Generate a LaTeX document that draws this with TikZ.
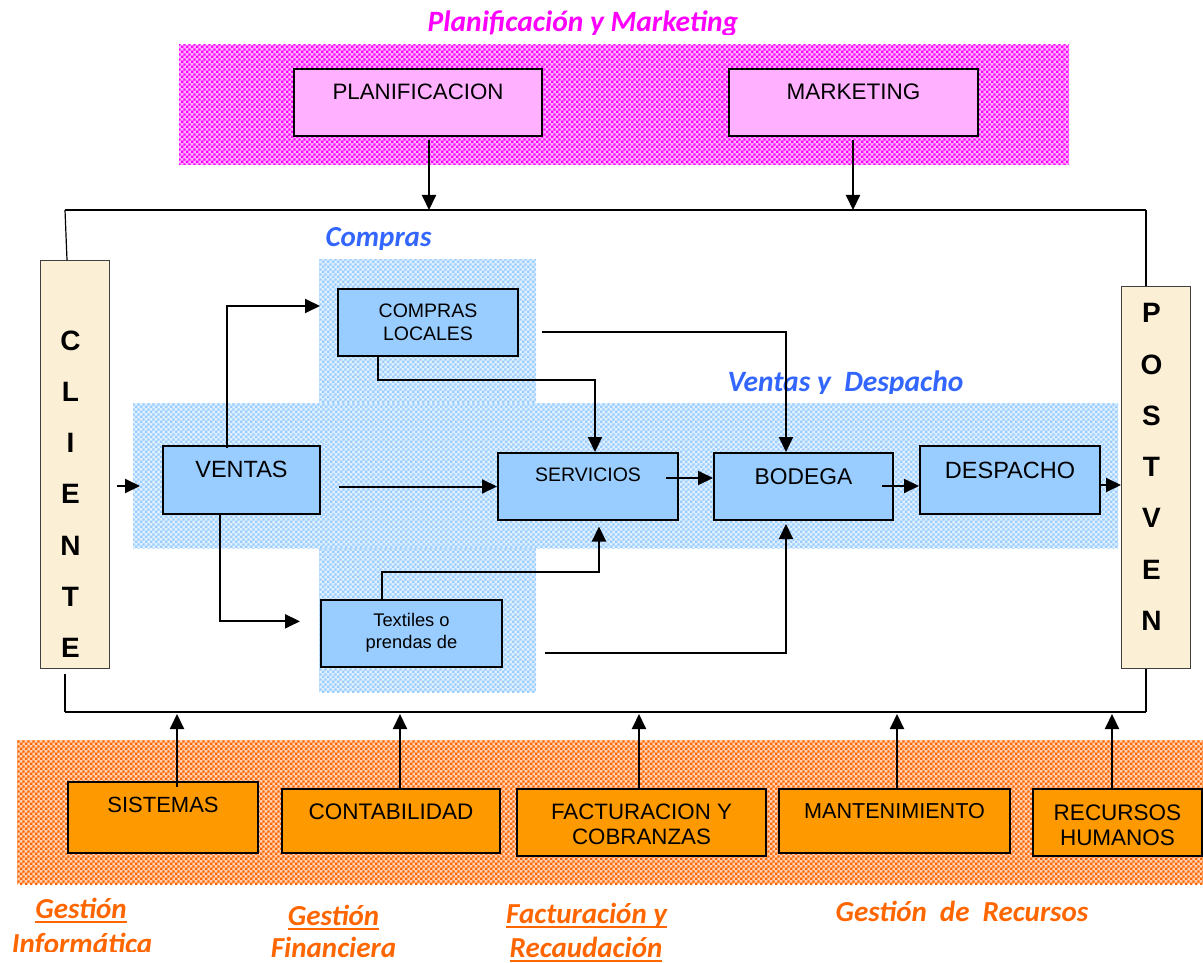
\documentclass[tikz,border=0pt]{standalone}
\usepackage{fontspec}
\setmainfont{Liberation Sans}
\newfontfamily\calib{Carlito}
\usetikzlibrary{arrows.meta,patterns,calc}

% small two-colour checks used for the department bands
\pgfdeclarepatternformonly{chk}{\pgfpointorigin}{\pgfqpoint{5.2pt}{5.2pt}}{\pgfqpoint{5.2pt}{5.2pt}}{%
  \pgfpathrectangle{\pgfpointorigin}{\pgfqpoint{2.6pt}{2.6pt}}%
  \pgfpathrectangle{\pgfqpoint{2.6pt}{2.6pt}}{\pgfqpoint{2.6pt}{2.6pt}}%
  \pgfusepath{fill}}

\definecolor{magA}{HTML}{FF00FF}
\definecolor{pinkbox}{HTML}{FFB0FF}
\definecolor{skyA}{HTML}{99CCFF}
\definecolor{orgA}{HTML}{FF6600}
\definecolor{orgbox}{HTML}{FF9900}
\definecolor{beigeA}{HTML}{FBEFD6}
\definecolor{lblblue}{HTML}{3366FF}

\newcommand\setfs[2]{\fontsize{#1}{#2}\selectfont}
% text pinned to the top of a W x H box, first line starting g below the top
\newcommand\topbox[4]{\parbox[c][#2pt][t]{#1pt}{\centering\vspace*{#3pt}#4\par}}
% letters stacked in the two side columns
\newcommand\stackbox[4]{\parbox[c][#2pt][t]{#1pt}{\centering\rightskip=9pt plus 1fil\vspace*{#3pt}#4\par}}
% heavy underline for the department captions
\newcommand\uln[1]{\setbox0=\hbox{#1}\rlap{\rule[-5pt]{\wd0}{2pt}}\box0}

\begin{document}
\begin{tikzpicture}[x=1pt,y=-1pt,
  box/.style={draw=black, line width=2pt, inner sep=0pt, anchor=north west},
  side/.style={draw=black!75, line width=0.9pt, fill=beigeA, inner sep=0pt,
    anchor=north west, font=\setfs{28}{51.3}\bfseries},
  arr/.style={line width=2pt, -{Triangle[length=15pt,width=14pt]}},
  frameline/.style={line width=2pt},
  thinline/.style={line width=1.2pt},
  captxt/.style={font=\calib\bfseries\itshape\setfs{29}{34}, inner sep=0pt, anchor=base},
  band/.style={fill=#1!30, postaction={pattern=chk, pattern color=#1}}
]
\useasboundingbox (0,0) rectangle (1203,963);

% checkered department bands
\path[band=magA] (179,45) rectangle (1069,165);
\path[band=skyA] (319,259) rectangle (536,692);
\path[band=skyA] (133,403) rectangle (1118,548);
\path[band=orgA] (17,740) rectangle (1203,884);

% band captions
\begin{scope}
  \clip (380,0) rectangle (800,34.5);
  \node[captxt, font=\calib\bfseries\itshape\setfs{29.5}{34}, text=magA] (ttl) at (583,31.5) {Planificación y Marketing};
\end{scope}
\begin{scope}
  \clip (300,215) rectangle (470,249.5);
  \node[captxt, text=lblblue] (capcompras) at (378.5,247) {Compras};
\end{scope}
\begin{scope}
  \clip (700,360) rectangle (1000,393.5);
  \node[captxt, font=\calib\bfseries\itshape\setfs{29.5}{34}, text=lblblue] (capventas) at (845.5,391) {Ventas y~ Despacho};
\end{scope}
\node[captxt, text=orgA] (capinf) at (81,918) {\uln{Gestión}};
\begin{scope}
  \clip (0,925) rectangle (200,951);
  \node[captxt, text=orgA] (capinfb) at (82,953) {Informática};
\end{scope}
\node[captxt, text=orgA] (capfin) at (333.5,925) {\uln{Gestión}};
\node[captxt, text=orgA] (capfinb) at (333.5,957) {Financiera};
\node[captxt, text=orgA] (capfac) at (586.5,923) {\uln{Facturación y}};
\node[captxt, text=orgA] (capfacb) at (586,957) {\uln{Recaudación}};
\node[captxt, text=orgA] (caprec) at (962,921) {Gestión~~de~~Recursos};

% outer frame joining CLIENTE and POSTVEN
\coordinate (ftl) at (65,210);
\coordinate (ftr) at (1146,210);
\coordinate (fbl) at (65,712);
\coordinate (fbr) at (1146,712);
\draw[frameline] (ftl) -- (ftr);
\draw[frameline] (fbl) -- (fbr);

% boxes
\node[box, fill=pinkbox, font=\setfs{22.3}{26}] (planif) at (293,68) {\topbox{248}{67}{15}{PLANIFICACION}};
\node[box, fill=pinkbox, font=\setfs{22.5}{26}] (mkt) at (728,68) {\topbox{249}{67}{15}{MARKETING}};
\node[side] (cliente) at (40,260) {\stackbox{69}{408}{70}{C\\L\\I\\E\\N\\T\\E}};
\node[side] (postven) at (1121,286) {\stackbox{69}{382}{17}{P\\O\\S\\T\\V\\E\\N}};

\node[box, fill=skyA, font=\setfs{23.5}{27}] (ventas) at (162,445) {\topbox{157}{68}{15}{VENTAS}};
\node[box, fill=skyA, font=\setfs{19.5}{23}] (compras) at (337,288) {\topbox{180}{67}{15}{COMPRAS\\LOCALES}};
\node[box, fill=skyA, font=\setfs{19.5}{23}] (servicios) at (497,452) {\topbox{180}{67}{14.7}{SERVICIOS}};
\node[box, fill=skyA, font=\setfs{22.8}{27}] (bodega) at (713,452) {\topbox{179}{67}{15.7}{BODEGA}};
\node[box, fill=skyA, font=\setfs{23.5}{27}] (despacho) at (919,445) {\topbox{180}{68}{15.7}{DESPACHO}};
\node[box, fill=skyA, font=\setfs{18.3}{21.3}] (textiles) at (320,598.7) {\topbox{181}{67.3}{14}{Textiles o\\prendas de}};

\node[box, fill=orgbox, font=\setfs{22}{25}] (sistemas) at (67,780.7) {\topbox{190}{71}{15.3}{SISTEMAS}};
\node[box, fill=orgbox, font=\setfs{22.5}{25}] (contab) at (281,787.7) {\topbox{218}{64}{15}{CONTABILIDAD}};
\node[box, fill=orgbox, font=\setfs{22.3}{25}] (factur) at (516,787.7) {\topbox{249}{67}{15.6}{FACTURACION Y\\COBRANZAS}};
\node[box, fill=orgbox, font=\setfs{21.6}{25}] (manten) at (778,787.7) {\topbox{231}{64}{15}{MANTENIMIENTO}};
\node[box, fill=orgbox, font=\setfs{22.5}{25}] (recursos) at (1032,787.7) {\topbox{169}{67}{15.6}{RECURSOS\\HUMANOS}};

% frame legs into the side columns
\draw[thinline] (ftl) -- ($(cliente.north west)+(27,0)$);
\draw[thinline] (ftr) -- ($(postven.north west)+(25,0)$);
\draw[thinline] ($(cliente.south west)+(25,5)$) -- (fbl);
\draw[thinline] ($(postven.south west)+(25,0)$) -- (fbr);

% planning and marketing feed the frame
\coordinate (pin) at (429,210);
\coordinate (min) at (853,210);
\draw[arr] ($(planif.south -| pin)+(0,3)$) -- (pin);
\draw[arr] ($(mkt.south -| min)+(0,3)$) -- (min);

% support departments feed the frame
\foreach \b/\x/\d in {sistemas/177/6, contab/400/0, factur/639/0, manten/897/0, recursos/1112/0}{
  \coordinate (up\b) at (\x,712);
  \draw[arr, shorten >=2pt] ($(\b.north -| up\b)+(0,\d)$) -- (up\b);
}

% process flow
\draw[arr] ($(cliente.east |- ventas.center)+(7,6)$) -- ($(ventas.west)+(-22,6)$);
\draw[arr] ($(ventas.north)+(-14.5,3)$) |- ($(compras.west)+(-17,-16.5)$);
\draw[arr] ($(ventas.south)+(-21.5,0)$) |- ($(textiles.west)+(-20,-12)$);
\draw[arr] ($(ventas.east)+(18,6.5)$) -- (servicios.west);
\draw[arr] ($(compras.south)+(-50,0)$) -- ++(0,23) -| ($(servicios.north)+(7,0)$);
\draw[arr] ($(compras.east)+(23,9.5)$) -| ($(bodega.north)+(-17.5,0)$);
\draw[arr] ($(textiles.north)+(-29.5,0)$) -- ++(0,-26.5) -| ($(servicios.south)+(11,5.5)$);
\draw[arr] ($(textiles.east)+(42,19.7)$) -| ($(bodega.south)+(-17.5,3)$);
\coordinate (sb) at ($(servicios.east)+(-13,-8.5)$);
\draw[arr] (sb) -- (sb -| bodega.west);
\coordinate (bd) at ($(bodega.east)+(-12,-0.5)$);
\draw[arr] (bd) -- (bd -| despacho.west);
\coordinate (dp) at ($(despacho.east)+(0,5)$);
\draw[arr] (dp) -- (dp -| postven.west);
\end{tikzpicture}
\end{document}
